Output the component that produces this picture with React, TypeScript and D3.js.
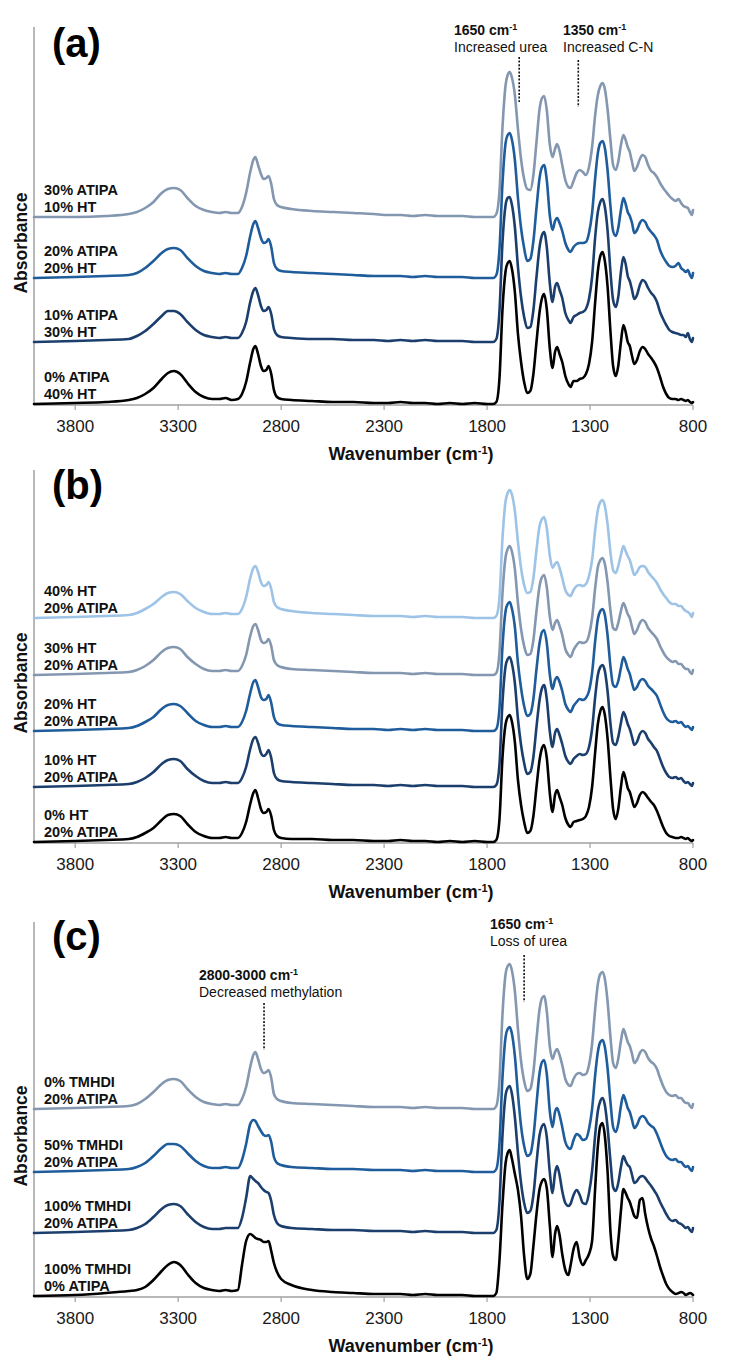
import React from "react";
import * as d3 from "d3";

// ---------- shared x grid (wavenumber, cm-1) ----------
const WAVENUMBERS = [
  4000, 3800, 3650, 3540,
  3500, 3460, 3420, 3380, 3350, 3320, 3290, 3255, 3215, 3175, 3135,
  3100, 3070, 3040, 3010,
  2990, 2970, 2950, 2935, 2925, 2912, 2898, 2885, 2872, 2861, 2848, 2835, 2820, 2800,
  2750, 2650, 2550, 2450, 2350, 2280, 2220, 2160, 2100, 2040, 1980, 1920, 1860, 1800,
  1770, 1755, 1740, 1725, 1710, 1700, 1690, 1680, 1665, 1650, 1635, 1620, 1605,
  1590, 1575, 1560, 1545, 1533, 1523, 1510, 1495, 1482,
  1470, 1460, 1448, 1435, 1420, 1405, 1395, 1380, 1365, 1350, 1335, 1320, 1305,
  1290, 1275, 1262, 1250, 1239, 1228, 1215, 1200, 1188, 1175,
  1163, 1150, 1138, 1127, 1117, 1107, 1096, 1085, 1072, 1058, 1045, 1032, 1018, 1003, 990,
  975, 960, 945, 930, 915, 900, 885, 870, 858, 846, 835, 825, 815, 805, 800,
];

const X_TICKS = [3800, 3300, 2800, 2300, 1800, 1300, 800];

// ---------- panel (a): absorbance (a.u.) above each trace's own baseline ----------
const A_30ATIPA_10HT = [
  0, 0, 1, 3,
  5, 9, 15, 24, 28, 29, 27, 19, 11, 7, 5,
  4, 5, 4, 4,
  10, 24, 45, 57, 60, 52, 43, 38, 39, 41, 33, 18, 12, 10,
  8, 6, 5, 4, 3, 2, 2, 1, 2, 1, 1, 1, 0, 0,
  0, 3, 25, 90, 132, 142, 145, 140, 122, 88, 58, 38, 28,
  27, 42, 75, 108, 119, 121, 107, 72, 60,
  68, 73, 66, 52, 37, 30, 29, 36, 44, 47, 45, 42, 50,
  70, 102, 122, 131, 134, 128, 108, 75, 52, 47,
  55, 72, 82, 77, 70, 65, 55, 46, 50, 58, 62, 60, 52, 46, 44,
  40, 34, 29, 25, 21, 18, 16, 18, 14, 11, 10, 9, 5, 2, 7,
];
const A_20ATIPA_20HT = [
  0, 1, 2, 3,
  5, 10, 17, 25, 29, 30, 28, 20, 12, 7, 5,
  4, 5, 4, 4,
  10, 22, 42, 54, 57, 50, 40, 35, 36, 39, 31, 15, 9, 7,
  6, 5, 4, 3, 2, 2, 2, 1, 2, 1, 1, 1, 0, 0,
  0, 3, 28, 95, 135, 143, 145, 139, 118, 80, 50, 30, 17,
  19, 37, 70, 100, 111, 113, 98, 62, 48,
  57, 60, 55, 47, 35, 28, 26, 31, 34, 35, 35, 36, 45,
  65, 100, 125, 135, 137, 130, 108, 70, 47, 42,
  50, 68, 80, 74, 66, 62, 55, 45, 48, 55, 58, 56, 50, 46, 43,
  38, 28, 21, 16, 12, 11, 12, 15, 10, 8, 6, 8, 3, 0, 5,
];
const A_10ATIPA_30HT = [
  0, 1, 2, 3,
  6, 11, 18, 26, 31, 31, 28, 20, 12, 7, 5,
  4, 5, 4, 4,
  9, 20, 40, 51, 54, 47, 36, 31, 32, 35, 28, 13, 7, 5,
  4, 3, 3, 2, 2, 1, 2, 1, 2, 1, 1, 1, 0, 0,
  0, 3, 30, 100, 137, 144, 145, 138, 115, 75, 45, 25, 14,
  15, 32, 65, 95, 107, 110, 95, 58, 40,
  55, 59, 52, 44, 29, 22, 19, 25, 27, 29, 30, 33, 43,
  65, 105, 130, 140, 143, 135, 112, 68, 42, 35,
  45, 70, 85, 78, 66, 61, 52, 43, 47, 57, 62, 60, 54, 49, 46,
  40, 30, 23, 17, 12, 10, 9, 8, 7, 7, 5, 9, 3, 0, 4,
];
const A_0ATIPA_40HT = [
  0, 1, 2, 4,
  6, 10, 16, 25, 31, 33, 30, 21, 12, 7, 5,
  5, 6, 4, 5,
  10, 22, 42, 55, 58, 50, 38, 33, 34, 38, 30, 14, 7, 5,
  4, 3, 2, 2, 1, 1, 2, 1, 1, 0, 1, 0, 1, 0,
  0, 2, 25, 95, 133, 141, 143, 136, 112, 70, 42, 22, 11,
  13, 30, 62, 92, 106, 110, 95, 55, 36,
  52, 57, 50, 42, 28, 20, 17, 23, 23, 25, 26, 30, 40,
  62, 102, 133, 148, 152, 143, 118, 70, 38, 28,
  38, 62, 79, 72, 62, 58, 48, 40, 44, 53, 57, 55, 50, 46, 42,
  36, 27, 17, 10, 6, 5, 5, 4, 5, 4, 3, 4, 2, 1, 2,
];
const A_OFFSETS = [188, 127, 63, 1];

// ---------- panel (b) ----------
const B_40HT = [
  0, 1, 2, 3,
  5, 9, 14, 21, 25, 26, 24, 17, 10, 6, 4,
  4, 5, 4, 4,
  9, 21, 40, 50, 52, 46, 36, 32, 33, 36, 29, 16, 11, 9,
  7, 5, 4, 3, 2, 2, 2, 1, 2, 1, 1, 1, 0, 0,
  0, 2, 20, 80, 117, 125, 128, 124, 107, 76, 50, 33, 25,
  26, 40, 68, 92, 99, 101, 90, 62, 50,
  54, 56, 50, 40, 28, 23, 22, 28, 32, 33, 32, 34, 42,
  58, 88, 108, 116, 118, 112, 94, 64, 48, 45,
  52, 63, 72, 67, 62, 58, 50, 43, 46, 51, 52, 51, 46, 42, 39,
  35, 29, 24, 20, 16, 14, 14, 12, 12, 9, 7, 6, 4, 1, 5,
];
const B_30HT = [
  0, 1, 2, 3,
  5, 9, 15, 23, 27, 28, 26, 18, 11, 6, 4,
  4, 5, 4, 4,
  9, 20, 39, 49, 51, 45, 35, 32, 33, 36, 29, 15, 10, 8,
  6, 5, 4, 3, 2, 2, 2, 1, 2, 1, 1, 1, 0, 0,
  0, 2, 22, 82, 118, 126, 129, 124, 106, 72, 46, 29, 20,
  21, 35, 64, 89, 98, 100, 88, 58, 45,
  52, 55, 49, 40, 26, 20, 18, 25, 30, 33, 32, 33, 40,
  57, 87, 108, 115, 117, 111, 93, 63, 47, 45,
  52, 64, 72, 67, 61, 57, 48, 41, 45, 52, 55, 53, 47, 43, 40,
  36, 29, 23, 18, 15, 13, 14, 11, 11, 8, 6, 6, 3, 1, 5,
];
const B_20HT = [
  0, 1, 2, 3,
  5, 9, 14, 22, 26, 27, 25, 18, 10, 6, 4,
  4, 5, 4, 4,
  9, 20, 38, 49, 51, 44, 34, 31, 32, 36, 28, 14, 8, 6,
  5, 4, 3, 2, 2, 1, 2, 1, 2, 1, 1, 1, 0, 0,
  0, 2, 22, 85, 120, 127, 129, 123, 104, 68, 43, 25, 15,
  17, 32, 62, 88, 99, 101, 88, 56, 42,
  51, 54, 49, 40, 27, 21, 19, 25, 29, 32, 31, 33, 40,
  58, 90, 112, 120, 122, 116, 96, 63, 46, 44,
  50, 63, 74, 69, 62, 57, 48, 41, 44, 50, 52, 50, 45, 42, 39,
  35, 27, 19, 13, 10, 9, 10, 8, 9, 6, 4, 5, 3, 1, 4,
];
const B_10HT = [
  0, 1, 2, 3,
  5, 9, 15, 23, 27, 28, 26, 18, 11, 6, 4,
  4, 5, 4, 4,
  9, 20, 38, 48, 50, 44, 34, 31, 33, 37, 29, 14, 8, 6,
  5, 4, 3, 2, 2, 1, 2, 1, 2, 1, 1, 1, 0, 0,
  0, 2, 22, 85, 121, 128, 130, 124, 104, 68, 42, 24, 13,
  15, 30, 60, 87, 99, 102, 88, 55, 40,
  54, 58, 52, 43, 31, 25, 23, 28, 31, 33, 32, 33, 40,
  58, 90, 112, 120, 122, 116, 96, 62, 44, 42,
  50, 64, 75, 70, 63, 58, 50, 42, 45, 53, 56, 54, 48, 44, 40,
  36, 28, 20, 14, 10, 9, 10, 8, 9, 6, 4, 5, 3, 1, 4,
];
const B_0HT = [
  0, 1, 2, 3,
  5, 9, 14, 22, 27, 28, 26, 18, 10, 6, 4,
  4, 5, 4, 4,
  9, 20, 38, 49, 52, 44, 33, 29, 30, 33, 26, 12, 6, 4,
  3, 3, 2, 2, 1, 1, 2, 1, 1, 0, 1, 0, 1, 0,
  0, 2, 22, 85, 118, 125, 127, 121, 100, 62, 37, 20, 9,
  11, 26, 55, 82, 94, 97, 84, 48, 30,
  47, 52, 45, 37, 24, 17, 15, 20, 21, 22, 23, 26, 35,
  55, 90, 118, 131, 135, 127, 104, 62, 33, 23,
  33, 55, 70, 63, 54, 50, 42, 35, 39, 47, 50, 48, 44, 40, 37,
  31, 23, 15, 9, 6, 5, 4, 4, 5, 4, 3, 4, 2, 1, 2,
];
const B_OFFSETS = [225, 168, 112, 56, 1];

// ---------- panel (c) ----------
const C_0TMHDI_20ATIPA = [
  0, 1, 2, 3,
  5, 10, 17, 25, 29, 30, 28, 20, 12, 7, 5,
  4, 5, 4, 4,
  10, 22, 42, 54, 57, 50, 40, 36, 37, 39, 31, 15, 10, 8,
  6, 5, 4, 3, 2, 2, 2, 1, 2, 1, 1, 1, 0, 0,
  0, 3, 28, 95, 135, 143, 145, 139, 118, 80, 48, 28, 18,
  20, 37, 70, 100, 111, 113, 98, 62, 50,
  57, 60, 54, 44, 30, 24, 23, 30, 35, 36, 34, 35, 44,
  65, 100, 125, 135, 137, 130, 108, 70, 46, 41,
  50, 68, 80, 74, 67, 63, 55, 46, 49, 56, 59, 57, 51, 47, 45,
  40, 31, 23, 17, 14, 13, 14, 11, 11, 8, 6, 6, 3, 1, 5,
];
const C_50TMHDI_20ATIPA = [
  0, 1, 2, 3,
  5, 9, 16, 24, 28, 28, 26, 19, 11, 6, 4,
  4, 5, 4, 4,
  12, 28, 48, 52, 51, 46, 41, 37, 36, 37, 30, 15, 9, 7,
  5, 4, 3, 3, 2, 2, 2, 1, 2, 1, 1, 1, 0, 0,
  0, 3, 28, 95, 135, 143, 145, 139, 116, 78, 46, 26, 16,
  18, 35, 68, 99, 110, 112, 98, 60, 45,
  60, 64, 57, 45, 30, 24, 23, 32, 38, 36, 32, 33, 43,
  63, 97, 120, 130, 132, 125, 104, 68, 45, 40,
  48, 66, 77, 71, 64, 60, 52, 44, 47, 54, 56, 54, 49, 46, 44,
  38, 30, 22, 16, 13, 12, 13, 10, 10, 7, 5, 6, 3, 1, 5,
];
const C_100TMHDI_20ATIPA = [
  0, 1, 2, 3,
  5, 9, 16, 24, 28, 29, 27, 19, 11, 6, 4,
  4, 5, 5, 5,
  15, 35, 57, 54, 52, 50, 46, 43, 41, 40, 32, 18, 10, 7,
  5, 4, 3, 3, 2, 2, 2, 1, 2, 1, 1, 1, 0, 0,
  0, 3, 30, 98, 138, 145, 147, 140, 116, 80, 50, 30, 20,
  22, 38, 70, 98, 107, 109, 96, 60, 40,
  60, 67, 58, 42, 30, 27, 29, 38, 43, 38, 30, 29, 40,
  62, 98, 122, 132, 135, 128, 106, 70, 46, 42,
  50, 66, 77, 72, 68, 66, 58, 50, 52, 56, 57, 55, 51, 47, 43,
  38, 31, 25, 19, 14, 12, 13, 10, 9, 7, 5, 6, 3, 1, 5,
];
const C_100TMHDI_0ATIPA = [
  0, 1, 3, 5,
  6, 9, 16, 25, 31, 34, 31, 22, 13, 8, 6,
  5, 6, 5, 6,
  31, 55, 62, 60, 58, 57, 56, 54, 54, 55, 45, 33, 24, 17,
  11, 6, 4, 3, 2, 2, 2, 1, 2, 1, 1, 1, 0, 0,
  0, 3, 35, 92, 133, 143, 146, 138, 122, 106, 80, 40, 17,
  22, 50, 82, 107, 115, 117, 108, 70, 39,
  62, 70, 61, 42, 26, 21, 30, 47, 54, 38, 31, 36, 42,
  55, 108, 150, 170, 173, 160, 125, 62, 40, 36,
  55, 85, 107, 103, 98, 94, 87, 80, 78, 96, 98, 82, 68, 57, 50,
  40, 29, 20, 12, 7, 4, 2, 3, 4, 3, 1, 2, 3, 2, 1,
];
const C_OFFSETS = [188, 125, 64, 1];

// ---------- labels ----------
const A_LABELS = [["30% ATIPA", "10% HT"], ["20% ATIPA", "20% HT"], ["10% ATIPA", "30% HT"], ["0% ATIPA", "40% HT"]];
const B_LABELS = [["40% HT", "20% ATIPA"], ["30% HT", "20% ATIPA"], ["20% HT", "20% ATIPA"], ["10% HT", "20% ATIPA"], ["0% HT", "20% ATIPA"]];
const C_LABELS = [["0% TMHDI", "20% ATIPA"], ["50% TMHDI", "20% ATIPA"], ["100% TMHDI", "20% ATIPA"], ["100% TMHDI", "0% ATIPA"]];

const GREYBLUE = "#8497b0";
const MIDBLUE = "#1f5c9c";
const NAVY = "#1b3e6d";
const LIGHTBLUE = "#9dc3e6";
const BLACK = "#000000";

const FONT = "'Liberation Sans', Arial, sans-serif";

type Note = { head: string; text: string; tx: number; ty: number; wn: number; y0: number; y1: number };

const PANELS = [
  {
    letter: "(a)", letterY: 57, top: 27, axisY: 405, absY: 243,
    series: [A_30ATIPA_10HT, A_20ATIPA_20HT, A_10ATIPA_30HT, A_0ATIPA_40HT],
    offsets: A_OFFSETS, labels: A_LABELS, colors: [GREYBLUE, MIDBLUE, NAVY, BLACK],
    notes: [
      { head: "1650 cm", text: "Increased urea", tx: 454, ty: 30, wn: 1644, y0: 57, y1: 102 },
      { head: "1350 cm", text: "Increased C-N", tx: 563, ty: 30, wn: 1357, y0: 60, y1: 107 },
    ] as Note[],
  },
  {
    letter: "(b)", letterY: 499, top: 470, axisY: 843, absY: 683,
    series: [B_40HT, B_30HT, B_20HT, B_10HT, B_0HT],
    offsets: B_OFFSETS, labels: B_LABELS, colors: [LIGHTBLUE, GREYBLUE, MIDBLUE, NAVY, BLACK],
    notes: [] as Note[],
  },
  {
    letter: "(c)", letterY: 950, top: 922, axisY: 1297, absY: 1136,
    series: [C_0TMHDI_20ATIPA, C_50TMHDI_20ATIPA, C_100TMHDI_20ATIPA, C_100TMHDI_0ATIPA],
    offsets: C_OFFSETS, labels: C_LABELS, colors: [GREYBLUE, MIDBLUE, NAVY, BLACK],
    notes: [
      { head: "1650 cm", text: "Loss of urea", tx: 490, ty: 924, wn: 1620, y0: 955, y1: 1002 },
      { head: "2800-3000 cm", text: "Decreased methylation", tx: 199, ty: 975, wn: 2883, y0: 1003, y1: 1050 },
    ] as Note[],
  },
];

const X_LEFT = 34;
const X_RIGHT = 693;

export default function App() {
  const x = d3.scaleLinear().domain([4000, 800]).range([X_LEFT, X_RIGHT]);
  return (
    <svg width={734} height={1366} style={{ display: "block", position: "absolute", left: 0, top: 0, background: "#fff" }}>
      <rect x={0} y={0} width={734} height={1366} fill="#fff" />
      {PANELS.map((p, pi) => {
        const y = d3.scaleLinear().domain([0, p.axisY - p.top]).range([p.axisY, p.top]);
        return (
          <g key={pi}>
            {/* axes */}
            <line x1={X_LEFT} x2={X_LEFT} y1={p.top} y2={p.axisY} stroke="#a0a0a0" strokeWidth={1.5} />
            <line x1={X_LEFT} x2={X_RIGHT} y1={p.axisY} y2={p.axisY} stroke="#a0a0a0" strokeWidth={1.5} />
            {X_TICKS.map((t) => (
              <g key={t}>
                <line x1={x(t)} x2={x(t)} y1={p.axisY} y2={p.axisY + 5} stroke="#a0a0a0" strokeWidth={1.2} />
                <text x={x(t)} y={p.axisY + 27} textAnchor="middle" fontFamily={FONT} fontSize={17} fill="#1a1a1a">
                  {t}
                </text>
              </g>
            ))}
            <text x={411} y={p.axisY + 55} textAnchor="middle" fontFamily={FONT} fontSize={18} fontWeight="bold" fill="#111">
              Wavenumber (cm<tspan dy={-6} fontSize={11}>-1</tspan><tspan dy={6}>)</tspan>
            </text>
            <text
              transform={`translate(${21},${p.absY}) rotate(-90)`}
              textAnchor="middle"
              dominantBaseline="central"
              fontFamily={FONT}
              fontSize={17.5}
              fontWeight="bold"
              fill="#111"
            >
              Absorbance
            </text>
            <text x={52} y={p.letterY} fontFamily={FONT} fontSize={40} fontWeight="bold" fill="#000">
              {p.letter}
            </text>
            {/* annotations */}
            {p.notes.map((n, ni) => (
              <g key={ni}>
                <text x={n.tx} y={n.ty + 5} fontFamily={FONT} fontSize={14} fontWeight="bold" fill="#111">
                  {n.head}
                  <tspan dy={-5} fontSize={9}>-1</tspan>
                </text>
                <text x={n.tx} y={n.ty + 22} fontFamily={FONT} fontSize={14} fill="#111">
                  {n.text}
                </text>
                <line x1={x(n.wn)} x2={x(n.wn)} y1={n.y0} y2={n.y1} stroke="#111" strokeWidth={1.6} strokeDasharray="2,1.6" />
              </g>
            ))}
            {/* spectra */}
            {p.series.map((vals, si) => {
              const off = p.offsets[si];
              const line = d3
                .line<number>()
                .x((_, i) => x(WAVENUMBERS[i]))
                .y((d) => y(d + off))
                .curve(d3.curveMonotoneX);
              return (
                <path key={si} d={line(vals) || ""} fill="none" stroke={p.colors[si]} strokeWidth={2.6} strokeLinejoin="round" strokeLinecap="round" />
              );
            })}
            {p.labels.map((lab, li) => {
              const base = y(p.offsets[li]);
              return (
                <g key={li}>
                  <text x={44} y={base - 27 + 5} fontFamily={FONT} fontSize={14.5} fontWeight="bold" fill="#111">
                    {lab[0]}
                  </text>
                  <text x={44} y={base - 10 + 5} fontFamily={FONT} fontSize={14.5} fontWeight="bold" fill="#111">
                    {lab[1]}
                  </text>
                </g>
              );
            })}
          </g>
        );
      })}
    </svg>
  );
}
